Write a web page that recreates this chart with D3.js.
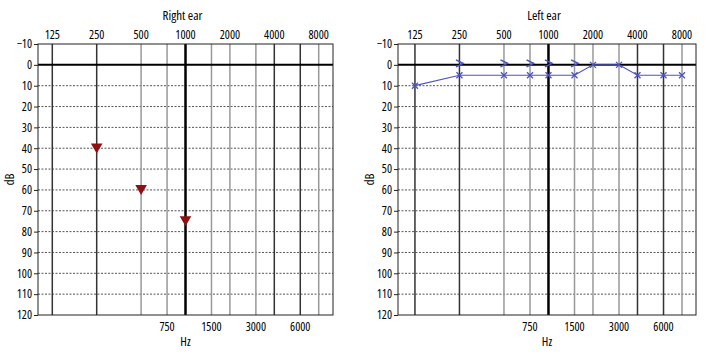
<!DOCTYPE html>
<html>
<head>
<meta charset="utf-8">
<script src="https://cdn.jsdelivr.net/npm/d3@7"></script>
<style>
  body { margin: 0; background: #fff; }
  text { font-family: "Open Sans", "Noto Sans", sans-serif; font-stretch: 75%; font-weight: 500; fill: #000; }
</style>
</head>
<body>
<svg id="chart" width="720" height="360"></svg>
<script>
// tick labels
const topFreqs = [125, 250, 500, 1000, 2000, 4000, 8000];
const bottomFreqs = [750, 1500, 3000, 6000];
const dbTicks = [-10, 0, 10, 20, 30, 40, 50, 60, 70, 80, 90, 100, 110, 120];

// right ear: masked air conduction (triangles)
const rightFreqs = [250, 500, 1000];
const rightDb = [40, 60, 75];

// left ear: air conduction (x) and bone conduction (>)
const leftAirFreqs = [125, 250, 500, 750, 1000, 1500, 2000, 3000, 4000, 6000, 8000];
const leftAirDb = [10, 5, 5, 5, 5, 5, 0, 0, 5, 5, 5];
const leftBoneFreqs = [250, 500, 750, 1000, 1500];
const leftBoneDb = [0, 0, 0, 0, 0];

const darkLines = [125, 250, 4000, 6000];
const blue = "#4c54c2";
const red = "#8e1010";

const svg = d3.select("#chart");

function drawPanel(opts) {
  const x = d3.scaleLog().domain(opts.domain).range([opts.left, opts.right]);
  const y = d3.scaleLinear().domain([-10, 120]).range([44, 315]);
  const g = svg.append("g");
  const mid = (opts.left + opts.right) / 2;

  // dotted horizontal lines
  g.selectAll(".hgrid")
    .data(dbTicks.filter((d) => d > 0 && d < 120))
    .join("line")
    .attr("x1", opts.left).attr("x2", opts.right)
    .attr("y1", (d) => y(d)).attr("y2", (d) => y(d))
    .attr("stroke", "#555")
    .attr("stroke-width", 1)
    .attr("stroke-dasharray", "2,1.5");

  // vertical frequency lines
  const allFreqs = topFreqs.concat(bottomFreqs).filter((d) => d !== 1000);
  g.selectAll(".vgrid")
    .data(allFreqs)
    .join("line")
    .attr("x1", (d) => x(d)).attr("x2", (d) => x(d))
    .attr("y1", y(-10)).attr("y2", y(120))
    .attr("stroke", (d) => (darkLines.includes(d) ? "#333" : "#999"))
    .attr("stroke-width", 1.5);

  // 0 dB line and 1000 Hz line
  g.append("line")
    .attr("x1", opts.left).attr("x2", opts.right)
    .attr("y1", y(0)).attr("y2", y(0))
    .attr("stroke", "#000").attr("stroke-width", 2);
  g.append("line")
    .attr("x1", x(1000)).attr("x2", x(1000))
    .attr("y1", y(-10)).attr("y2", y(120))
    .attr("stroke", "#000").attr("stroke-width", 2.5);

  // frame
  g.append("rect")
    .attr("x", opts.left).attr("y", y(-10))
    .attr("width", opts.right - opts.left).attr("height", y(120) - y(-10))
    .attr("fill", "none").attr("stroke", "#222").attr("stroke-width", 1);

  // y axis
  const yAxis = d3.axisLeft(y)
    .tickValues(dbTicks)
    .tickSize(4)
    .tickFormat((d) => (d < 0 ? "\u2212" + Math.abs(d) : d));
  const ya = g.append("g")
    .attr("transform", `translate(${opts.left},0)`)
    .call(yAxis);
  ya.select(".domain").remove();
  ya.selectAll("line").attr("stroke", "#222");
  ya.selectAll("text").attr("font-size", 12).attr("x", -6).attr("fill", "#000");

  // top and bottom frequency labels
  g.selectAll(".ftop")
    .data(topFreqs)
    .join("text")
    .attr("x", (d) => x(d)).attr("y", 39)
    .attr("text-anchor", "middle").attr("font-size", 12)
    .text((d) => d);
  g.selectAll(".fbot")
    .data(bottomFreqs)
    .join("text")
    .attr("x", (d) => x(d)).attr("y", 331)
    .attr("text-anchor", "middle").attr("font-size", 12)
    .text((d) => d);

  g.append("text")
    .attr("x", mid - 3).attr("y", 20)
    .attr("text-anchor", "middle").attr("font-size", 13)
    .text(opts.title);
  g.append("text")
    .attr("x", mid).attr("y", 346)
    .attr("text-anchor", "middle").attr("font-size", 12.5)
    .text("Hz");
  g.append("text")
    .attr("transform", `translate(${opts.left - 24},${y(55)}) rotate(-90)`)
    .attr("text-anchor", "middle").attr("font-size", 12.5)
    .text("dB");

  return { g, x, y };
}

// Right ear
const r = drawPanel({ title: "Right ear", domain: [100, 10000], left: 38, right: 333 });
r.g.selectAll(".tri")
  .data(rightFreqs.map((f, i) => ({ f, db: rightDb[i] })))
  .join("path")
  .attr("d", d3.symbol(d3.symbolTriangle, 58))
  .attr("transform", (d) => `translate(${r.x(d.f)},${r.y(d.db) - 1.5}) rotate(180)`)
  .attr("fill", red);

// Left ear
const l = drawPanel({ title: "Left ear", domain: [96, 9950], left: 398, right: 696 });
const air = leftAirFreqs.map((f, i) => ({ f, db: leftAirDb[i] }));
l.g.append("path")
  .datum(air)
  .attr("fill", "none")
  .attr("stroke", blue)
  .attr("stroke-width", 1.2)
  .attr("d", d3.line().x((d) => l.x(d.f)).y((d) => l.y(d.db)));
l.g.selectAll(".cross")
  .data(air)
  .join("path")
  .attr("d", "M-3,-3L3,3M-3,3L3,-3")
  .attr("transform", (d) => `translate(${l.x(d.f)},${l.y(d.db)})`)
  .attr("stroke", blue)
  .attr("stroke-width", 1.3)
  .attr("fill", "none");
l.g.selectAll(".bone")
  .data(leftBoneFreqs.map((f, i) => ({ f, db: leftBoneDb[i] })))
  .join("path")
  .attr("d", "M-3.5,-5L3.5,-1.5L-3.5,2")
  .attr("transform", (d) => `translate(${l.x(d.f)},${l.y(d.db)})`)
  .attr("stroke", blue)
  .attr("stroke-width", 1.6)
  .attr("fill", "none");
</script>
</body>
</html>
